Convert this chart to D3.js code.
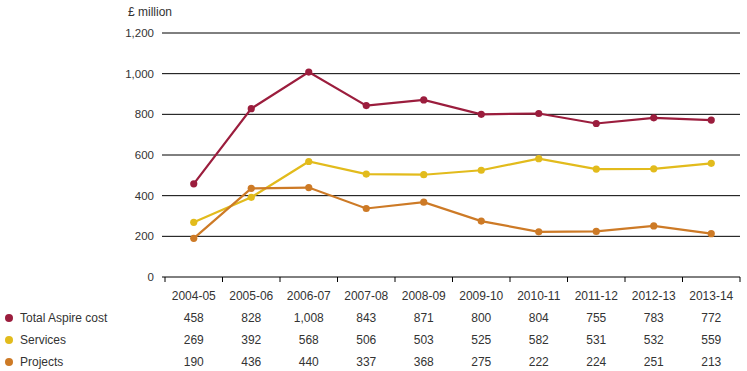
<!DOCTYPE html>
<html>
<head>
<meta charset="utf-8">
<script src="https://cdn.jsdelivr.net/npm/d3@7"></script>
<style>
body { margin: 0; background: #fff; }
text { font-family: "Liberation Sans", Arial, sans-serif; fill: #333; }
</style>
</head>
<body>
<svg id="chart"></svg>
<script>
const years = ["2004-05", "2005-06", "2006-07", "2007-08", "2008-09", "2009-10", "2010-11", "2011-12", "2012-13", "2013-14"];
const totalCost = [458, 828, 1008, 843, 871, 800, 804, 755, 783, 772];
const services = [269, 392, 568, 506, 503, 525, 582, 531, 532, 559];
const projects = [190, 436, 440, 337, 368, 275, 222, 224, 251, 213];
const yTicks = [0, 200, 400, 600, 800, 1000, 1200];

const series = [
    { name: "Total Aspire cost", values: totalCost, color: "#9b1d3d" },
    { name: "Services", values: services, color: "#e2bb1c" },
    { name: "Projects", values: projects, color: "#cd7a26" }
];

const width = 747, height = 371;
const svg = d3.select("#chart").attr("width", width).attr("height", height);

const x = d3.scaleBand().domain(years).range([165, 740]);
const y = d3.scaleLinear().domain([0, 1200]).range([277, 33]);
const fmt = d3.format(",");

// gridlines
svg.append("g")
    .selectAll("line")
    .data(yTicks.filter(d => d > 0))
    .enter().append("line")
    .attr("x1", 162).attr("x2", 740)
    .attr("y1", d => y(d)).attr("y2", d => y(d))
    .attr("stroke", "#000").attr("stroke-width", 1);

// y labels
svg.append("g")
    .selectAll("text")
    .data(yTicks)
    .enter().append("text")
    .attr("x", 154)
    .attr("y", d => y(d))
    .attr("dy", "0.35em")
    .attr("text-anchor", "end")
    .style("font-size", "11.5px")
    .text(d => fmt(d));

svg.append("text")
    .attr("x", 128).attr("y", 16)
    .style("font-size", "12px")
    .text("£ million");

// x axis
const xAxis = svg.append("g").attr("transform", "translate(0,277)");
xAxis.append("line")
    .attr("x1", 162).attr("x2", 740)
    .attr("stroke", "#000");
xAxis.selectAll(".tick")
    .data(d3.range(years.length + 1))
    .enter().append("line")
    .attr("x1", i => i < years.length ? x(years[i]) : x.range()[1])
    .attr("x2", i => i < years.length ? x(years[i]) : x.range()[1])
    .attr("y1", 0).attr("y2", 5)
    .attr("stroke", "#000");

svg.append("g")
    .selectAll("text")
    .data(years)
    .enter().append("text")
    .attr("x", d => x(d) + x.bandwidth() / 2)
    .attr("y", 300)
    .attr("text-anchor", "middle")
    .style("font-size", "12px")
    .text(d => d);

// lines
const line = d3.line()
    .x((d, i) => x(years[i]) + x.bandwidth() / 2)
    .y(d => y(d));

series.forEach(s => {
    svg.append("path")
        .datum(s.values)
        .attr("fill", "none")
        .attr("stroke", s.color)
        .attr("stroke-width", 2.2)
        .attr("d", line);
    svg.append("g")
        .selectAll("circle")
        .data(s.values)
        .enter().append("circle")
        .attr("cx", (d, i) => x(years[i]) + x.bandwidth() / 2)
        .attr("cy", d => y(d))
        .attr("r", 3.6)
        .attr("fill", s.color);
});

// table
series.forEach((s, r) => {
    const ry = 322 + r * 22;
    svg.append("circle")
        .attr("cx", 9).attr("cy", ry - 4)
        .attr("r", 4).attr("fill", s.color);
    svg.append("text")
        .attr("x", 20).attr("y", ry)
        .style("font-size", "12px")
        .text(s.name);
    svg.append("g")
        .selectAll("text")
        .data(s.values)
        .enter().append("text")
        .attr("x", (d, i) => x(years[i]) + x.bandwidth() / 2)
        .attr("y", ry)
        .attr("text-anchor", "middle")
        .style("font-size", "12px")
        .text(d => fmt(d));
});
</script>
</body>
</html>
